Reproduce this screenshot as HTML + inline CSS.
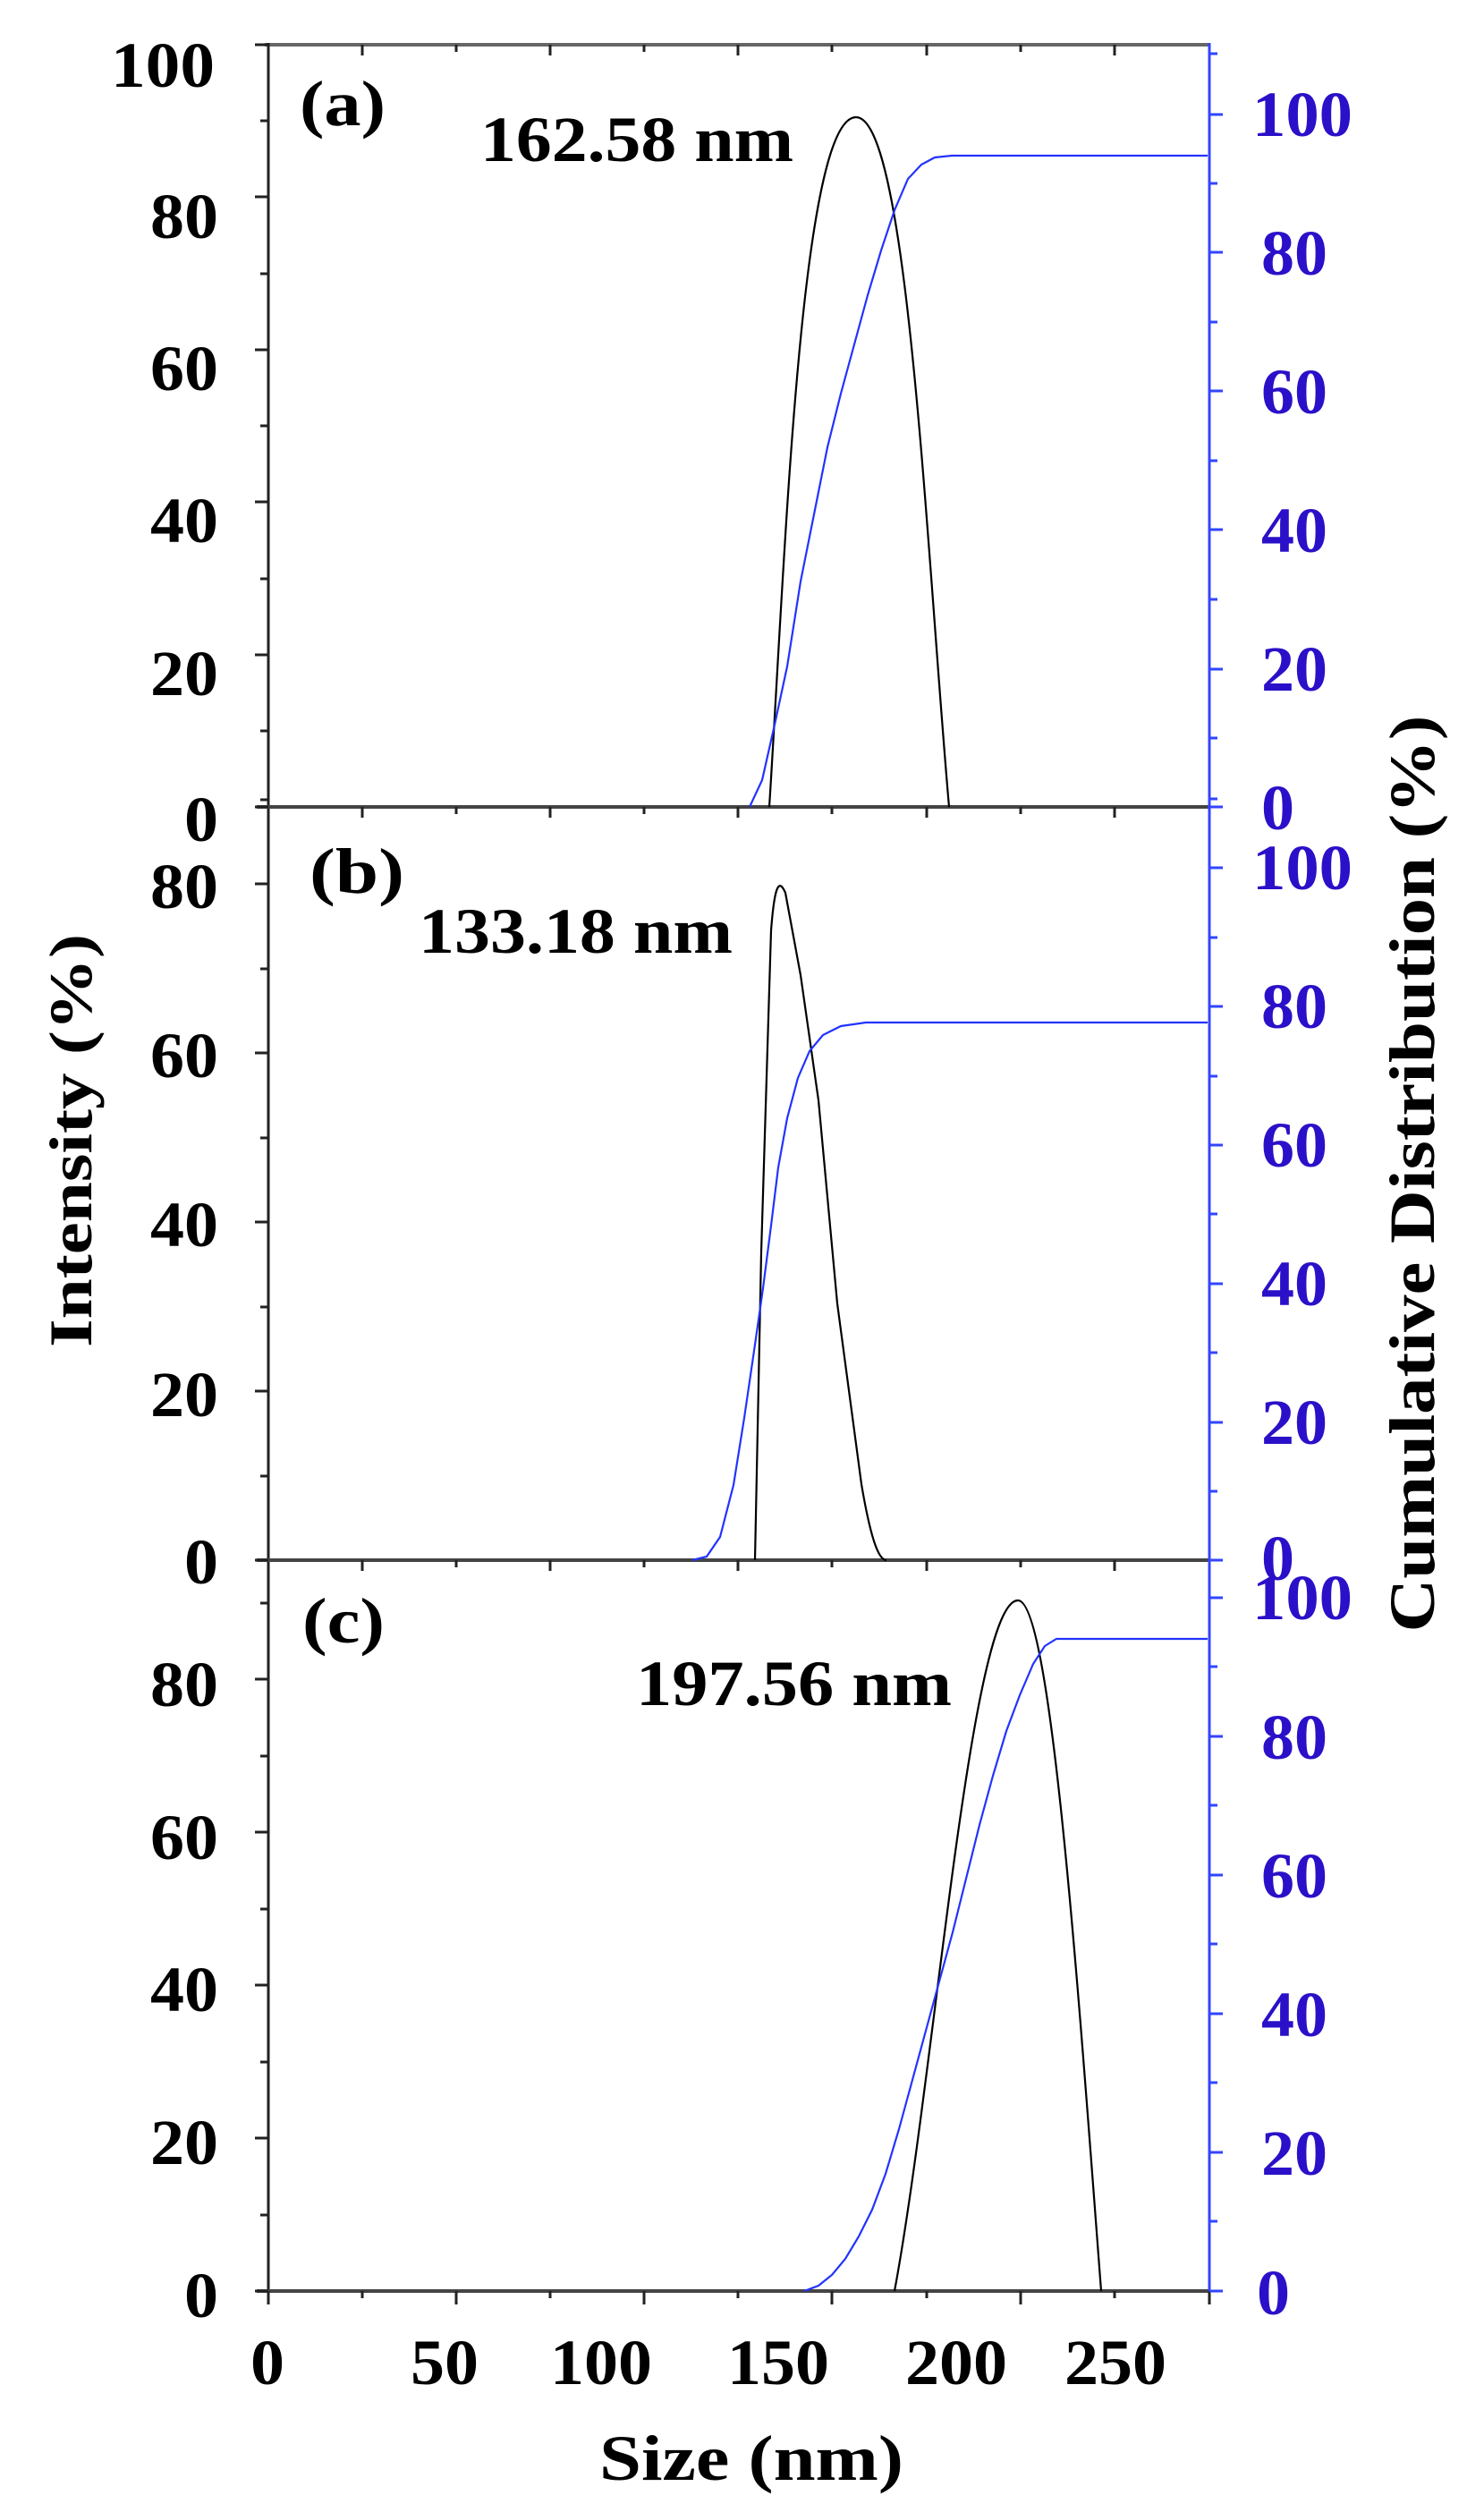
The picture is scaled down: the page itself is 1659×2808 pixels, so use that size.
<!DOCTYPE html>
<html><head><meta charset="utf-8"><style>html,body{margin:0;padding:0;background:#fff}svg{display:block}</style></head>
<body>
<svg width="1659" height="2808" viewBox="0 0 1659 2808" xmlns="http://www.w3.org/2000/svg" font-family="'Liberation Serif', serif" font-weight="bold">
<rect width="1659" height="2808" fill="#fff"/>
<g stroke="#444" stroke-width="4" fill="none">
<line x1="296" y1="50" x2="1352" y2="50" stroke="#666"/>
<line x1="300" y1="48" x2="300" y2="2563" stroke="#222" stroke-width="3"/>
<line x1="287" y1="902" x2="1352" y2="902"/>
<line x1="287" y1="1744" x2="1352" y2="1744"/>
<line x1="287" y1="2561" x2="1352" y2="2561"/>
</g>
<line x1="1352" y1="48" x2="1352" y2="2561" stroke="#3344ff" stroke-width="3"/>
<g stroke="#222" stroke-width="3" id="xt">
<!-- top ticks inside each panel -->
<path d="M405,50v12M510,50v8M615,50v12M720,50v8M825,50v12M930,50v8M1036,50v12M1141,50v8M1246,50v12"/>
<path d="M405,902v12M510,902v8M615,902v12M720,902v8M825,902v12M930,902v8M1036,902v12M1141,902v8M1246,902v12"/>
<path d="M405,1744v12M510,1744v8M615,1744v12M720,1744v8M825,1744v12M930,1744v8M1036,1744v12M1141,1744v8M1246,1744v12"/>
<path d="M300,2561v15M405,2561v8M510,2561v15M615,2561v8M720,2561v15M825,2561v8M930,2561v15M1036,2561v8M1141,2561v15M1246,2561v8M1352,2561v15"/>
<!-- left ticks a: 0 at 902, 20 per 170.4 -->
<path d="M285,50h15M291,135h9M285,220h15M291,306h9M285,391h15M291,476h9M285,561h15M291,647h9M285,732h15M291,817h9M285,902h15"/>
<!-- b: 0 at 1744, 20 per 189 -->
<path d="M285,1744h15M291,1650h9M285,1555h15M291,1461h9M285,1366h15M291,1272h9M285,1177h15M291,1083h9M285,988h15M291,894h9"/>
<!-- c: 0 at 2561, 20 per 171 -->
<path d="M285,2561h15M291,2476h9M285,2390h15M291,2305h9M285,2219h15M291,2134h9M285,2048h15M291,1963h9M285,1877h15M291,1792h9"/>
</g>
<g stroke="#3344ff" stroke-width="3">
<path d="M1352,902h15M1352,825h9M1352,748h15M1352,670h9M1352,592h15M1352,515h9M1352,437h15M1352,360h9M1352,282h15M1352,205h9M1352,128h15M1352,60h9"/>
<path d="M1352,1744h15M1352,1667h9M1352,1590h15M1352,1512h9M1352,1435h15M1352,1357h9M1352,1280h15M1352,1203h9M1352,1125h15M1352,1048h9M1352,970h15M1352,893h9"/>
<path d="M1352,2561h15M1352,2483h9M1352,2406h15M1352,2328h9M1352,2251h15M1352,2173h9M1352,2096h15M1352,2018h9M1352,1941h15M1352,1863h9M1352,1786h15"/>
</g>
<!-- curves -->
<g fill="none" stroke-width="2.2">
<path stroke="#000" d="M860,902 C878,620 895,131 957,131 C1015,131 1036,620 1061,902"/>
<polyline stroke="#2233ff" points="838,902 852,872 866,810 880,745 895,650 910,575 925,500 940,440 955,385 970,330 985,280 1000,235 1015,200 1030,184 1045,176 1064,174 1350,174"/>
<path stroke="#000" d="M844,1744 L851,1400 L862,1040 C866,988 871,982 878,998 L895,1090 L915,1230 L936,1457 L963,1659 C975,1730 984,1744 991,1744"/>
<polyline stroke="#2233ff" points="774,1744 790,1740 805,1718 820,1660 832,1585 843,1510 853,1440 862,1370 870,1305 880,1250 892,1205 905,1175 920,1157 940,1147 968,1143 1350,1143"/>
<path stroke="#000" d="M1000,2561 C1045,2320 1085,1789 1138,1789 C1175,1789 1205,2220 1231,2561"/>
<polyline stroke="#2233ff" points="899,2561 915,2555 930,2543 945,2525 960,2500 975,2470 990,2430 1005,2380 1020,2325 1035,2270 1050,2215 1065,2160 1080,2100 1095,2040 1110,1985 1125,1935 1140,1895 1155,1860 1168,1840 1181,1832 1350,1832"/>
</g>
<!-- left tick labels -->
<g font-size="72" fill="#000" text-anchor="end">
<text x="240" y="97" textLength="116" lengthAdjust="spacingAndGlyphs">100</text>
<text x="244" y="266" textLength="76" lengthAdjust="spacingAndGlyphs">80</text>
<text x="244" y="436" textLength="76" lengthAdjust="spacingAndGlyphs">60</text>
<text x="244" y="606" textLength="76" lengthAdjust="spacingAndGlyphs">40</text>
<text x="244" y="777" textLength="76" lengthAdjust="spacingAndGlyphs">20</text>
<text x="244" y="940" textLength="38" lengthAdjust="spacingAndGlyphs">0</text>
<text x="244" y="1015" textLength="76" lengthAdjust="spacingAndGlyphs">80</text>
<text x="244" y="1204" textLength="76" lengthAdjust="spacingAndGlyphs">60</text>
<text x="244" y="1393" textLength="76" lengthAdjust="spacingAndGlyphs">40</text>
<text x="244" y="1583" textLength="76" lengthAdjust="spacingAndGlyphs">20</text>
<text x="244" y="1770" textLength="38" lengthAdjust="spacingAndGlyphs">0</text>
<text x="244" y="1907" textLength="76" lengthAdjust="spacingAndGlyphs">80</text>
<text x="244" y="2078" textLength="76" lengthAdjust="spacingAndGlyphs">60</text>
<text x="244" y="2248" textLength="76" lengthAdjust="spacingAndGlyphs">40</text>
<text x="244" y="2419" textLength="76" lengthAdjust="spacingAndGlyphs">20</text>
<text x="244" y="2590" textLength="38" lengthAdjust="spacingAndGlyphs">0</text>
</g>
<!-- right tick labels -->
<g font-size="72" fill="#2a10c8">
<text x="1400" y="152" textLength="112" lengthAdjust="spacingAndGlyphs">100</text>
<text x="1410" y="307" textLength="74" lengthAdjust="spacingAndGlyphs">80</text>
<text x="1410" y="462" textLength="74" lengthAdjust="spacingAndGlyphs">60</text>
<text x="1410" y="617" textLength="74" lengthAdjust="spacingAndGlyphs">40</text>
<text x="1410" y="772" textLength="74" lengthAdjust="spacingAndGlyphs">20</text>
<text x="1410" y="927" textLength="37" lengthAdjust="spacingAndGlyphs">0</text>
<text x="1400" y="994" textLength="112" lengthAdjust="spacingAndGlyphs">100</text>
<text x="1410" y="1149" textLength="74" lengthAdjust="spacingAndGlyphs">80</text>
<text x="1410" y="1304" textLength="74" lengthAdjust="spacingAndGlyphs">60</text>
<text x="1410" y="1459" textLength="74" lengthAdjust="spacingAndGlyphs">40</text>
<text x="1410" y="1614" textLength="74" lengthAdjust="spacingAndGlyphs">20</text>
<text x="1410" y="1766" textLength="37" lengthAdjust="spacingAndGlyphs">0</text>
<text x="1400" y="1810" textLength="112" lengthAdjust="spacingAndGlyphs">100</text>
<text x="1410" y="1966" textLength="74" lengthAdjust="spacingAndGlyphs">80</text>
<text x="1410" y="2121" textLength="74" lengthAdjust="spacingAndGlyphs">60</text>
<text x="1410" y="2276" textLength="74" lengthAdjust="spacingAndGlyphs">40</text>
<text x="1410" y="2431" textLength="74" lengthAdjust="spacingAndGlyphs">20</text>
<text x="1405" y="2587" textLength="37" lengthAdjust="spacingAndGlyphs">0</text>
</g>
<!-- x tick labels -->
<g font-size="72" fill="#000" text-anchor="middle">
<text x="299" y="2665" textLength="38" lengthAdjust="spacingAndGlyphs">0</text>
<text x="497" y="2665" textLength="76" lengthAdjust="spacingAndGlyphs">50</text>
<text x="672" y="2665" textLength="114" lengthAdjust="spacingAndGlyphs">100</text>
<text x="870" y="2665" textLength="114" lengthAdjust="spacingAndGlyphs">150</text>
<text x="1069" y="2665" textLength="114" lengthAdjust="spacingAndGlyphs">200</text>
<text x="1247" y="2665" textLength="114" lengthAdjust="spacingAndGlyphs">250</text>
<text x="840" y="2772" textLength="340" lengthAdjust="spacingAndGlyphs">Size (nm)</text>
</g>
<!-- panel labels -->
<g font-size="72" fill="#000">
<text x="335" y="140" textLength="96" lengthAdjust="spacingAndGlyphs">(a)</text>
<text x="537" y="180" textLength="350" lengthAdjust="spacingAndGlyphs">162.58 nm</text>
<text x="346" y="998" textLength="106" lengthAdjust="spacingAndGlyphs">(b)</text>
<text x="468" y="1065" textLength="351" lengthAdjust="spacingAndGlyphs">133.18 nm</text>
<text x="338" y="1836" textLength="92" lengthAdjust="spacingAndGlyphs">(c)</text>
<text x="711" y="1906" textLength="353" lengthAdjust="spacingAndGlyphs">197.56 nm</text>
</g>
<text transform="translate(102,1275) rotate(-90)" font-size="68" text-anchor="middle" textLength="462" lengthAdjust="spacingAndGlyphs">Intensity (%)</text>
<text transform="translate(1603,1312) rotate(-90)" font-size="72" text-anchor="middle" textLength="1025" lengthAdjust="spacingAndGlyphs">Cumulative Distribution (%)</text>
</svg>
</body></html>
